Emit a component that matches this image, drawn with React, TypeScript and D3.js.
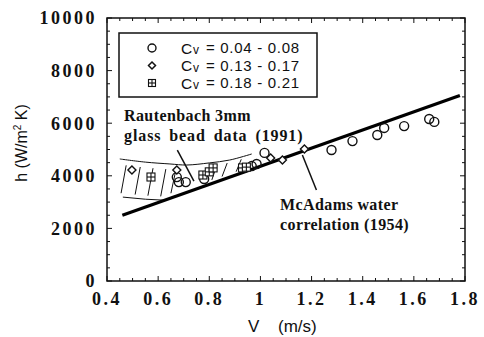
import React from "react";
import * as d3 from "d3";

// ---- data ----
const xTickLabels = ["0.4", "0.6", "0.8", "1", "1.2", "1.4", "1.6", "1.8"];
const yTickLabels = ["0", "2000", "4000", "6000", "8000", "10000"];

const circleV = [0.673, 0.681, 0.708, 0.78, 0.966, 0.985, 1.016, 1.278, 1.36, 1.457, 1.484, 1.562, 1.66, 1.68];
const circleH = [3950, 3760, 3760, 3880, 4370, 4450, 4870, 4980, 5320, 5550, 5820, 5890, 6160, 6050];

const diamondV = [0.4975, 0.673, 1.04, 1.086, 1.172];
const diamondH = [4220, 4220, 4680, 4600, 5020];

const squareV = [0.572, 0.775, 0.8, 0.815, 0.93, 0.945];
const squareH = [3954, 4030, 4150, 4300, 4300, 4330];

const mcAdamsV = [0.46, 1.78];
const mcAdamsH = [2500, 7050];

const rautUpperV = [0.45, 0.55, 0.646, 0.712, 0.8, 0.88, 0.966];
const rautUpperH = [4640, 4520, 4450, 4410, 4490, 4600, 4830];
const rautLowerV = [0.462, 0.55, 0.63];
const rautLowerH = [3190, 3110, 3070];
const hatchV = [0.455, 0.51, 0.56, 0.61, 0.65, 0.81, 0.85, 0.905];

const legendLabels = ["= 0.04 - 0.08", "= 0.13 - 0.17", "= 0.18 - 0.21"];

export default function App() {
  const W = 484, H = 337;
  const x = d3.scaleLinear().domain([0.4, 1.8]).range([107, 465]);
  const y = d3.scaleLinear().domain([0, 10000]).range([281, 18]);
  const serif = "'Liberation Serif', 'Times New Roman', serif";
  const sans = "'Liberation Sans', Arial, sans-serif";

  const xt = d3.range(0, 29).map((i) => 0.4 + i * 0.05);
  const yt = d3.range(0, 21).map((i) => i * 500);

  const line = d3.line<[number, number]>().x((d) => x(d[0])).y((d) => y(d[1]));
  const upperCurve = d3.line<[number, number]>().x((d) => x(d[0])).y((d) => y(d[1])).curve(d3.curveCatmullRom);
  const upperPts: [number, number][] = rautUpperV.map((v, i) => [v, rautUpperH[i]]);
  const lowerPts: [number, number][] = rautLowerV.map((v, i) => [v, rautLowerH[i]]);

  const upperAt = (v: number) => {
    const i = d3.bisector((d: number) => d).left(rautUpperV, v);
    const i0 = Math.max(1, Math.min(rautUpperV.length - 1, i));
    const t = (v - rautUpperV[i0 - 1]) / (rautUpperV[i0] - rautUpperV[i0 - 1]);
    return rautUpperH[i0 - 1] + t * (rautUpperH[i0] - rautUpperH[i0 - 1]);
  };
  const mc = (v: number) => mcAdamsH[0] + ((v - mcAdamsV[0]) / (mcAdamsV[1] - mcAdamsV[0])) * (mcAdamsH[1] - mcAdamsH[0]);
  const lowerAt = (v: number) => {
    if (v <= rautLowerV[rautLowerV.length - 1]) {
      const i = Math.max(1, d3.bisector((d: number) => d).left(rautLowerV, v));
      const i0 = Math.min(rautLowerV.length - 1, i);
      const t = (v - rautLowerV[i0 - 1]) / (rautLowerV[i0] - rautLowerV[i0 - 1]);
      return rautLowerH[i0 - 1] + t * (rautLowerH[i0] - rautLowerH[i0 - 1]);
    }
    return mc(v) + 60;
  };

  const isMajorX = (v: number) => Math.abs((v - 0.4) / 0.2 - Math.round((v - 0.4) / 0.2)) < 1e-6;
  const isMajorY = (v: number) => v % 2000 === 0;

  return (
    <svg width={W} height={H} style={{ position: "absolute", left: 0, top: 0, background: "#fff" }}>
      <rect x={0} y={0} width={W} height={H} fill="#fff" />
      {/* frame */}
      <rect x={107} y={18} width={358} height={263} fill="none" stroke="#111" strokeWidth={1.5} />
      {/* ticks */}
      {xt.map((v, i) => {
        const L = isMajorX(v) ? 5 : 3;
        return (
          <g key={"xt" + i} stroke="#111" strokeWidth={1}>
            <line x1={x(v)} x2={x(v)} y1={281} y2={281 - L} />
            <line x1={x(v)} x2={x(v)} y1={18} y2={18 + L} />
          </g>
        );
      })}
      {yt.map((v, i) => {
        const L = isMajorY(v) ? 5 : 3;
        return (
          <g key={"yt" + i} stroke="#111" strokeWidth={1}>
            <line x1={107} x2={107 + L} y1={y(v)} y2={y(v)} />
            <line x1={465} x2={465 - L} y1={y(v)} y2={y(v)} />
          </g>
        );
      })}
      {/* tick labels */}
      {xTickLabels.map((t, i) => (
        <text key={"xl" + i} x={x(+t)} y={305} textAnchor="middle" fontFamily={serif} fontWeight="bold" fontSize={18} letterSpacing={2.5} fill="#111">
          {t}
        </text>
      ))}
      {yTickLabels.map((t, i) => (
        <text key={"yl" + i} x={97} y={y(+t)} dy="0.35em" textAnchor="end" fontFamily={serif} fontWeight="bold" fontSize={18} letterSpacing={2.5} fill="#111">
          {t}
        </text>
      ))}
      {/* axis titles */}
      <text x={248} y={332} fontFamily={sans} fontSize={17} fill="#111">V</text>
      <text x={278} y={332} fontFamily={sans} fontSize={17} fill="#111">(m/s)</text>
      <text transform="translate(27,143) rotate(-90)" textAnchor="middle" fontFamily={sans} fontSize={16} fill="#111">
        h (W/m<tspan dy={-6} fontSize={10}>2</tspan><tspan dy={6}> K)</tspan>
      </text>

      {/* Rautenbach hatched region */}
      <path d={upperCurve(upperPts) || ""} fill="none" stroke="#111" strokeWidth={1} />
      <path d={line(lowerPts) || ""} fill="none" stroke="#111" strokeWidth={1} />
      {hatchV.map((v, i) => {
        const lo = lowerAt(v);
        const v2 = v + 0.02;
        const hi = upperAt(v2);
        const gap = hi - lo;
        return (
          <line key={"h" + i} x1={x(v)} y1={y(lo + gap * 0.1)} x2={x(v2)} y2={y(lo + gap * 0.85)} stroke="#111" strokeWidth={1} />
        );
      })}

      {/* McAdams line */}
      <path d={line(mcAdamsV.map((v, i) => [v, mcAdamsH[i]]) as [number, number][]) || ""} fill="none" stroke="#000" strokeWidth={3.2} />

      {/* pointers */}
      <line x1={x(0.675)} y1={y(4980)} x2={x(0.74)} y2={y(3800)} stroke="#111" strokeWidth={1.5} />
      <line x1={x(1.164)} y1={y(4790)} x2={x(1.219)} y2={y(3460)} stroke="#111" strokeWidth={1.5} />

      {/* markers */}
      {circleV.map((v, i) => (
        <circle key={"c" + i} cx={x(v)} cy={y(circleH[i])} r={4.5} fill="none" stroke="#111" strokeWidth={1.4} />
      ))}
      {diamondV.map((v, i) => {
        const cx = x(v), cy = y(diamondH[i]), s = 4;
        return <path key={"d" + i} d={`M${cx},${cy - s}L${cx + s},${cy}L${cx},${cy + s}L${cx - s},${cy}Z`} fill="#fff" stroke="#111" strokeWidth={1.4} />;
      })}
      {squareV.map((v, i) => {
        const cx = x(v), cy = y(squareH[i]), s = 4;
        return (
          <g key={"s" + i} stroke="#111" strokeWidth={1.1} fill="#fff">
            <rect x={cx - s} y={cy - s} width={2 * s} height={2 * s} />
            <line x1={cx - s} x2={cx + s} y1={cy} y2={cy} />
            <line x1={cx} x2={cx} y1={cy - s} y2={cy + s} />
          </g>
        );
      })}

      {/* legend */}
      <rect x={119} y={33} width={198} height={64} fill="#fff" stroke="#111" strokeWidth={1.5} />
      {legendLabels.map((t, i) => {
        const cy = 48 + i * 17.5;
        const cx = 152;
        let marker;
        if (i === 0) marker = <circle cx={cx} cy={cy} r={4} fill="none" stroke="#111" strokeWidth={1.4} />;
        else if (i === 1) marker = <path d={`M${cx},${cy - 3.5}L${cx + 3.5},${cy}L${cx},${cy + 3.5}L${cx - 3.5},${cy}Z`} fill="none" stroke="#111" strokeWidth={1.5} />;
        else
          marker = (
            <g stroke="#111" strokeWidth={1.1} fill="none">
              <rect x={cx - 3.5} y={cy - 3.5} width={7} height={7} />
              <line x1={cx - 3.5} x2={cx + 3.5} y1={cy} y2={cy} />
              <line x1={cx} x2={cx} y1={cy - 3.5} y2={cy + 3.5} />
            </g>
          );
        return (
          <g key={"lg" + i}>
            {marker}
            <text x={181} y={cy} dy="0.36em" fontFamily={sans} fontSize={15.5} fill="#111">C</text>
            <text x={193} y={cy + 2} dy="0.36em" fontFamily={sans} fontSize={12} fill="#111">v</text>
            <text x={206} y={cy} dy="0.36em" fontFamily={sans} fontSize={15} letterSpacing={0.7} fill="#111">{t}</text>
          </g>
        );
      })}

      {/* annotations */}
      <text x={124} y={121} fontFamily={serif} fontWeight="bold" fontSize={16} fill="#111" letterSpacing={0.4}>
        Rautenbach 3mm
      </text>
      <text x={124} y={141} fontFamily={serif} fontWeight="bold" fontSize={16} fill="#111" letterSpacing={0.9} wordSpacing={3}>
        glass bead data (1991)
      </text>
      <text x={280} y={210} fontFamily={serif} fontWeight="bold" fontSize={16} fill="#111" letterSpacing={0.4}>
        McAdams water
      </text>
      <text x={280} y={230} fontFamily={serif} fontWeight="bold" fontSize={16} fill="#111" letterSpacing={0.4}>
        correlation (1954)
      </text>
    </svg>
  );
}
